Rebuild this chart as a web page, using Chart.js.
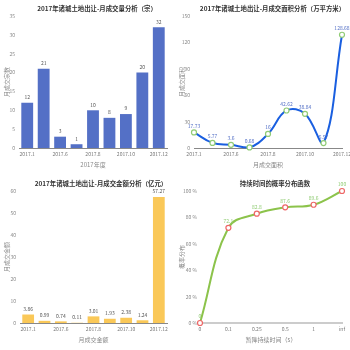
<!DOCTYPE html>
<html lang="zh">
<head>
<meta charset="UTF-8" />
<title>2017年诸城土地出让分析</title>
<script src="https://cdn.jsdelivr.net/npm/chart.js"></script>
<style>
  body { margin: 0; background: #fff; }
  .grid { position: relative; width: 350px; height: 350px; }
  .grid canvas { position: absolute; }
</style>
</head>
<body>
<div class="grid">
  <canvas id="chartCount" width="175" height="175" style="left:0;top:0"></canvas>
  <canvas id="chartArea" width="175" height="175" style="left:175px;top:0"></canvas>
  <canvas id="chartAmount" width="175" height="175" style="left:0;top:175px"></canvas>
  <canvas id="chartProb" width="175" height="175" style="left:175px;top:175px"></canvas>
</div>
<script>
// data
const months = ["2017.1", "2017.3", "2017.6", "2017.7", "2017.8", "2017.9", "2017.10", "2017.11", "2017.12"];
const countValues = [12, 21, 3, 1, 10, 8, 9, 20, 32];
const areaValues = [17.73, 5.77, 3.6, 0.68, 16, 42.62, 38.84, 5.57, 128.68];
const amountValues = [3.86, 0.99, 0.74, 0.11, 3.01, 1.93, 2.38, 1.24, 57.27];
const durationLabels = ["0", "0.1", "0.25", "0.5", "1", "inf"];
const probValues = [0, 72.1, 82.8, 87.6, 89.6, 100];

const family = '"Noto Sans CJK SC", "Noto Sans", sans-serif';
Chart.defaults.font.family = family;
Chart.defaults.animation = false;

// draws the value above each bar / point
const valueLabels = {
    id: "valueLabels",
    afterDatasetsDraw(chart, args, opts) {
        const ctx = chart.ctx;
        ctx.save();
        ctx.font = "5px " + family;
        ctx.fillStyle = opts.color;
        ctx.textAlign = "center";
        ctx.textBaseline = "bottom";
        const values = chart.data.datasets[0].data;
        chart.getDatasetMeta(0).data.forEach((el, i) => {
            ctx.fillText(values[i], el.x, el.y - opts.offset);
        });
        ctx.restore();
    },
};

// chart title, centred a bit right of the plot like the original
const topTitle = {
    id: "topTitle",
    afterDraw(chart, args, opts) {
        const ctx = chart.ctx;
        ctx.save();
        ctx.font = "bold 6.4px " + family;
        ctx.fillStyle = "#333";
        ctx.textAlign = "center";
        ctx.textBaseline = "middle";
        ctx.fillText(opts.text, opts.x, 8.5);
        ctx.restore();
    },
};

function everyOther(value, index) {
    return index % 2 === 0 ? this.getLabelForValue(value) : "";
}

function allLabels(value) {
    return this.getLabelForValue(value);
}

function buildScales(o) {
    return {
        x: {
            offset: o.offset,
            grid: { display: false, drawTicks: false },
            border: { color: o.axisColor, width: o.axisWidth },
            ticks: { font: { size: 5 }, color: "#777", padding: 3, autoSkip: false, maxRotation: 0, callback: o.xCallback },
            title: { display: true, text: o.xTitle, font: { size: 6 }, color: "#888", padding: { top: 0, bottom: 7 } },
            afterFit(s) {
                s.height = 27;
                s.paddingLeft = 0;
                s.paddingRight = 0;
            },
        },
        y: {
            min: 0,
            max: o.yMax,
            grid: { display: false, drawTicks: false },
            border: { display: false },
            ticks: { stepSize: o.step, font: { size: 5 }, color: "#888", padding: o.tickPad, callback: o.yCallback },
            title: { display: true, text: o.yTitle, font: { size: 6 }, color: "#888", padding: { top: 0, bottom: 0 } },
            afterFit(s) {
                s.width = o.yWidth;
                s.paddingTop = 0;
                s.paddingBottom = 0;
            },
        },
    };
}

function baseOptions(title, titleX, scales, labelColor, offset) {
    return {
        responsive: false,
        layout: { padding: { left: 3, right: 8, top: 16, bottom: 0 } },
        plugins: {
            legend: { display: false },
            tooltip: { enabled: false },
            title: { display: false },
            topTitle: { text: title, x: titleX },
            valueLabels: { color: labelColor, offset: offset },
        },
        scales: scales,
    };
}

new Chart(document.getElementById("chartCount"), {
    type: "bar",
    data: {
        labels: months,
        datasets: [{ data: countValues, backgroundColor: "#5470c6", barPercentage: 0.72, categoryPercentage: 1 }],
    },
    options: baseOptions(
        "2017年诸城土地出让-月成交量分析（宗）", 97,
        buildScales({ offset: true, axisColor: "#888", axisWidth: 1, xCallback: everyOther, xTitle: "2017年度",
            yMax: 35, step: 5, tickPad: 4, yTitle: "月成交宗数", yWidth: 16 }),
        "#555", 3
    ),
    plugins: [valueLabels, topTitle],
});

new Chart(document.getElementById("chartArea"), {
    type: "line",
    data: {
        labels: months,
        datasets: [{
            data: areaValues,
            borderColor: "#1a5fe0",
            borderWidth: 2,
            tension: 0.4,
            pointRadius: 2.5,
            pointBorderWidth: 1.2,
            pointBorderColor: "#91cc75",
            pointBackgroundColor: "#fff",
            clip: false,
        }],
    },
    options: baseOptions(
        "2017年诸城土地出让-月成交面积分析（万平方米）", 97.5,
        buildScales({ offset: false, axisColor: "#888", axisWidth: 1, xCallback: everyOther, xTitle: "月成交面积",
            yMax: 150, step: 30, tickPad: 4, yTitle: "月成交面积", yWidth: 16 }),
        "#5470c6", 4
    ),
    plugins: [valueLabels, topTitle],
});

new Chart(document.getElementById("chartAmount"), {
    type: "bar",
    data: {
        labels: months,
        datasets: [{ data: amountValues, backgroundColor: "#fac858", barPercentage: 0.72, categoryPercentage: 1 }],
    },
    options: baseOptions(
        "2017年诸城土地出让-月成交金额分析（亿元）", 101,
        buildScales({ offset: true, axisColor: "#888", axisWidth: 1, xCallback: everyOther, xTitle: "月成交金额",
            yMax: 60, step: 10, tickPad: 4, yTitle: "月成交金额", yWidth: 17 }),
        "#555", 3
    ),
    plugins: [valueLabels, topTitle],
});

new Chart(document.getElementById("chartProb"), {
    type: "line",
    data: {
        labels: durationLabels,
        datasets: [{
            data: probValues,
            borderColor: "#8cc34b",
            borderWidth: 2,
            tension: 0.4,
            pointRadius: 2.5,
            pointBorderWidth: 1.2,
            pointBorderColor: "#ee6666",
            pointBackgroundColor: "#fff",
            clip: false,
        }],
    },
    options: baseOptions(
        "持续时间的概率分布函数", 100,
        buildScales({ offset: false, axisColor: "#ccc", axisWidth: 2, xCallback: allLabels, xTitle: "暂降持续时间（s）",
            yMax: 100, step: 20, tickPad: 3, yTitle: "概率分布", yWidth: 22, yCallback: (v) => v + " %" }),
        "#91cc75", 4
    ),
    plugins: [valueLabels, topTitle],
});
</script>
</body>
</html>
